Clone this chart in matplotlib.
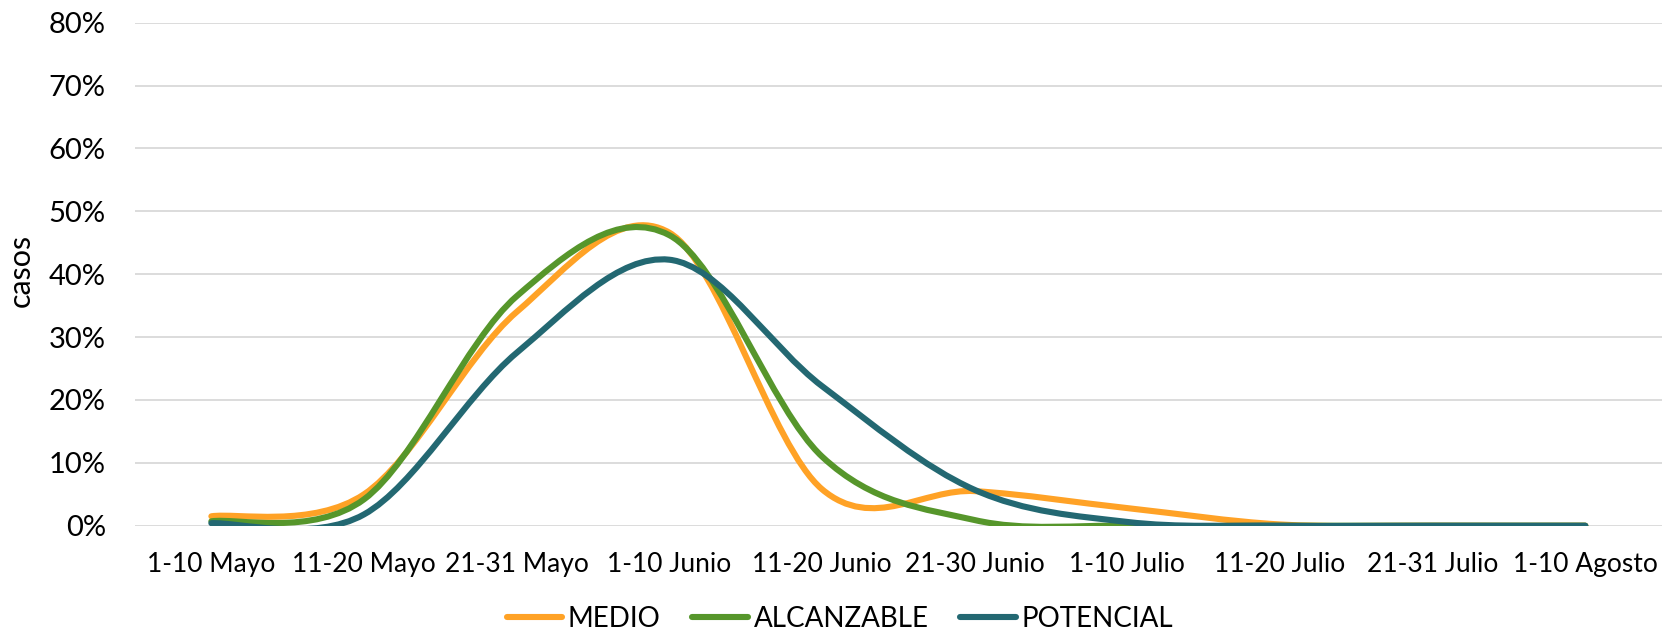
import numpy as np
import matplotlib
matplotlib.use("Agg")
from matplotlib import pyplot as plt
from matplotlib.path import Path
from matplotlib.patches import PathPatch
from matplotlib.lines import Line2D
from matplotlib.ticker import PercentFormatter

categorias = ['1-10 Mayo', '11-20 Mayo', '21-31 Mayo', '1-10 Junio', '11-20 Junio',
              '21-30 Junio', '1-10 Julio', '11-20 Julio', '21-31 Julio', '1-10 Agosto']
medio = [1.5, 5.0, 34.0, 46.6, 5.8, 5.5, 2.8, 0.2, 0.0, 0.0]
alcanzable = [0.7, 4.2, 36.5, 46.2, 11.0, 0.9, 0.0, 0.0, 0.0, 0.0]
potencial = [0.4, 1.8, 27.5, 42.3, 22.2, 5.7, 0.6, 0.0, 0.0, 0.0]

series = [('MEDIO', medio, '#FFA226'),
          ('ALCANZABLE', alcanzable, '#56962B'),
          ('POTENCIAL', potencial, '#236872')]

plt.rcParams['font.family'] = ['Lato', 'DejaVu Sans']


def smooth_path(x, y):
    # bezier segments like excel "smoothed line" (catmull-rom control points)
    p = np.column_stack([x, y]).astype(float)
    pp = np.vstack([p[0], p, p[-1]])
    verts = [p[0]]
    codes = [Path.MOVETO]
    for i in range(len(p) - 1):
        p0, p1, p2, p3 = pp[i], pp[i + 1], pp[i + 2], pp[i + 3]
        c1 = p1 + (p2 - p0) / 6.0
        c2 = p2 - (p3 - p1) / 6.0
        verts += [c1, c2, p2]
        codes += [Path.CURVE4] * 3
    return Path(verts, codes)


fig = plt.figure(figsize=(16.63, 6.36), dpi=100)
ax = fig.add_axes([0.0812, 0.1734, 0.918, 0.791])

x = np.arange(len(categorias))
for nombre, vals, color in series:
    path = smooth_path(x, np.array(vals) / 100.0)
    ax.add_patch(PathPatch(path, facecolor='none', edgecolor=color, lw=4.4,
                           capstyle='round', joinstyle='round', zorder=3))

ax.set_xlim(-0.5, 9.5)
ax.set_ylim(0, 0.8)
ax.set_yticks(np.arange(0, 0.81, 0.1))
ax.yaxis.set_major_formatter(PercentFormatter(1.0, decimals=0))
ax.set_xticks(x)
ax.set_xticklabels(categorias)
ax.grid(axis='y', color='#D9D9D9', lw=1.3, zorder=0)
ax.set_axisbelow(True)
for s in ax.spines.values():
    s.set_visible(False)
ax.tick_params(axis='y', length=0, pad=21, labelsize=21, labelcolor='#000000')
ax.tick_params(axis='x', length=0, pad=19, labelsize=19, labelcolor='#000000')

fig.text(0.0127, 0.575, 'casos', rotation=90, ha='center', va='center', fontsize=22)

handles = [Line2D([], [], color=c, lw=4.4, solid_capstyle='round') for _, _, c in series]
fig.legend(handles, [n for n, _, _ in series], loc='lower center', bbox_to_anchor=(0.505, -0.033),
           ncol=3, frameon=False, fontsize=20, handlelength=2.0, handletextpad=0.2,
           columnspacing=1.15)

plt.savefig('out.png', dpi=100)
